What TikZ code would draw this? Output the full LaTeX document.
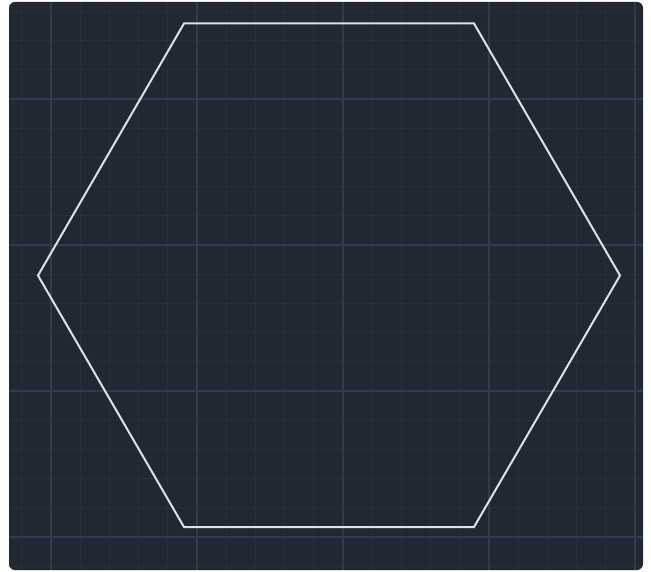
\documentclass[tikz,border=0pt]{standalone}
\usepackage{tikz}
\definecolor{bgdark}{RGB}{33,40,51}
\definecolor{gridminor}{RGB}{39,47,59}
\definecolor{gridmajor}{RGB}{50,59,74}
\definecolor{hexline}{RGB}{222,226,232}
\tikzset{
  minorline/.style={draw=gridminor, line width=1.2pt},
  majorline/.style={draw=gridmajor, line width=1.4pt},
  hexedge/.style={draw=hexline, line width=2pt, line join=miter}
}
\begin{document}
\begin{tikzpicture}[x=1pt,y=-1pt]
\useasboundingbox (0,0) rectangle (651,572);
\fill[white] (0,0) rectangle (651,572);
\fill[bgdark, rounded corners=6pt] (9,2) rectangle (643,570);
\begin{scope}
\clip[rounded corners=6pt] (9,2) rectangle (643,570);
\foreach \k in {-6,...,15} {
  \pgfmathsetmacro{\xx}{197+29.2*\k}
  \draw[minorline] (\xx,2) -- (\xx,570);
}
\foreach \k in {-8,...,11} {
  \pgfmathsetmacro{\yy}{245+29.2*\k}
  \draw[minorline] (9,\yy) -- (643,\yy);
}
\foreach \k in {-1,...,3} {
  \pgfmathsetmacro{\xx}{197+146*\k}
  \draw[majorline] (\xx,2) -- (\xx,570);
}
\foreach \k in {-1,...,2} {
  \pgfmathsetmacro{\yy}{245+146*\k}
  \draw[majorline] (9,\yy) -- (643,\yy);
}
\end{scope}
\coordinate (v1) at (184,23.5);
\coordinate (v2) at (474,23.5);
\coordinate (v3) at (620,275.5);
\coordinate (v4) at (474,527);
\coordinate (v5) at (184,527);
\coordinate (v6) at (38,275.5);
\draw[hexedge] (v1) -- (v2) -- (v3) -- (v4) -- (v5) -- (v6) -- cycle;
\end{tikzpicture}
\end{document}
